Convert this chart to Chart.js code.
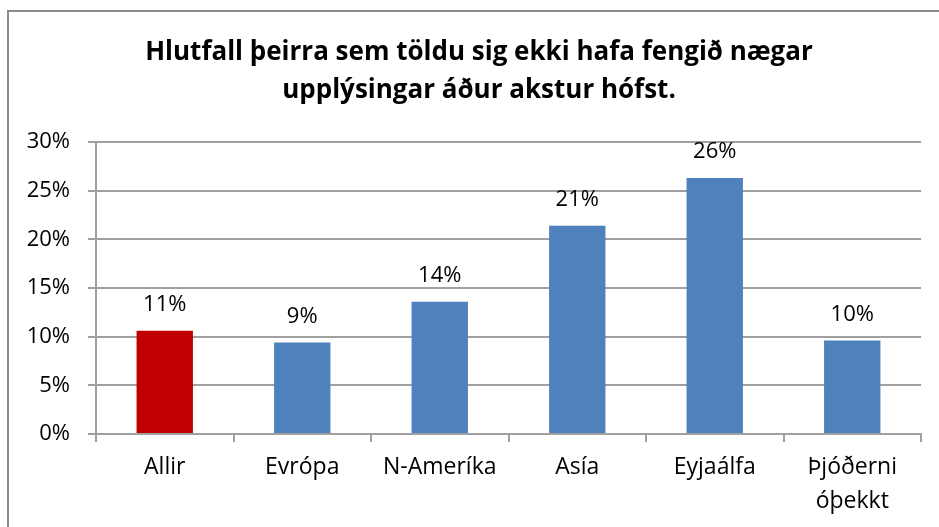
<!DOCTYPE html>
<html>
<head>
<meta charset="utf-8">
<script src="https://cdn.jsdelivr.net/npm/chart.js@4"></script>
<style>
  html, body { margin: 0; padding: 0; background: #fff; }
  #wrap { width: 939px; height: 527px; position: relative; }
</style>
</head>
<body>
<div id="wrap"><canvas id="chart"></canvas></div>
<script>
// chart data
const categories = ['Allir', 'Evrópa', 'N-Ameríka', 'Asía', 'Eyjaálfa', ['Þjóðerni', 'óþekkt']];
const shares = [10.6, 9.4, 13.6, 21.4, 26.3, 9.6];
const barColors = ['#C00000', '#4F81BD', '#4F81BD', '#4F81BD', '#4F81BD', '#4F81BD'];
const yTicks = [0, 5, 10, 15, 20, 25, 30];
const titleLines = ['Hlutfall þeirra sem töldu sig ekki hafa fengið nægar', 'upplýsingar áður akstur hófst.'];

const FONT = "'Open Sans', 'Liberation Sans', sans-serif";
const GRID = '#a0a0a0';

// frame around the chart (only top/left visible in the picture) + title
const framePlugin = {
    id: 'frame',
    beforeDraw(chart) {
        const c = chart.ctx;
        c.save();
        c.fillStyle = '#fff';
        c.fillRect(0, 0, chart.width, chart.height);
        c.strokeStyle = '#8a8a8a';
        c.lineWidth = 2;
        c.beginPath();
        c.moveTo(8, chart.height);
        c.lineTo(8, 11);
        c.lineTo(chart.width, 11);
        c.stroke();

        // title, centred a bit right of the plot like the original
        c.font = 'bold 26px ' + FONT;
        c.fillStyle = '#000';
        c.textAlign = 'center';
        c.textBaseline = 'middle';
        titleLines.forEach((line, i) => c.fillText(line, 479, 53 + i * 38));
        c.restore();
    }
};

// value labels above bars
const valueLabels = {
    id: 'valueLabels',
    afterDatasetsDraw(chart) {
        const c = chart.ctx;
        const meta = chart.getDatasetMeta(0);
        c.save();
        c.font = '22px ' + FONT;
        c.fillStyle = '#000';
        c.textAlign = 'center';
        c.textBaseline = 'middle';
        meta.data.forEach((bar, i) => {
            c.fillText(Math.round(shares[i]) + '%', bar.x, bar.y - 26);
        });
        c.restore();
    }
};

new Chart(document.getElementById('chart'), {
    type: 'bar',
    data: {
        labels: categories,
        datasets: [{
            data: shares,
            backgroundColor: barColors,
            borderWidth: 0,
            barPercentage: 0.41,
            categoryPercentage: 1
        }]
    },
    options: {
        responsive: true,
        maintainAspectRatio: false,
        animation: false,
        layout: { padding: { left: 0, right: 18, top: 142, bottom: 0 } },
        plugins: {
            legend: { display: false },
            tooltip: { enabled: false },
            title: { display: false }
        },
        scales: {
            x: {
                grid: { display: true, drawOnChartArea: false, drawTicks: true, tickLength: 8, color: GRID, lineWidth: 2 },
                border: { color: GRID, width: 2 },
                ticks: { color: '#000', font: { family: FONT, size: 23, lineHeight: 1.45 }, padding: 9, maxRotation: 0, autoSkip: false },
                afterFit(scale) { scale.height = 93; }
            },
            y: {
                min: 0,
                max: 30,
                afterBuildTicks(scale) { scale.ticks = yTicks.map(v => ({ value: v })); },
                grid: { color: GRID, lineWidth: 2, tickLength: 8 },
                border: { color: GRID, width: 2 },
                ticks: { color: '#000', font: { family: FONT, size: 22 }, padding: 18, callback: v => v + '%' },
                afterFit(scale) { scale.width = 96; }
            }
        }
    },
    plugins: [framePlugin, valueLabels]
});
</script>
</body>
</html>
